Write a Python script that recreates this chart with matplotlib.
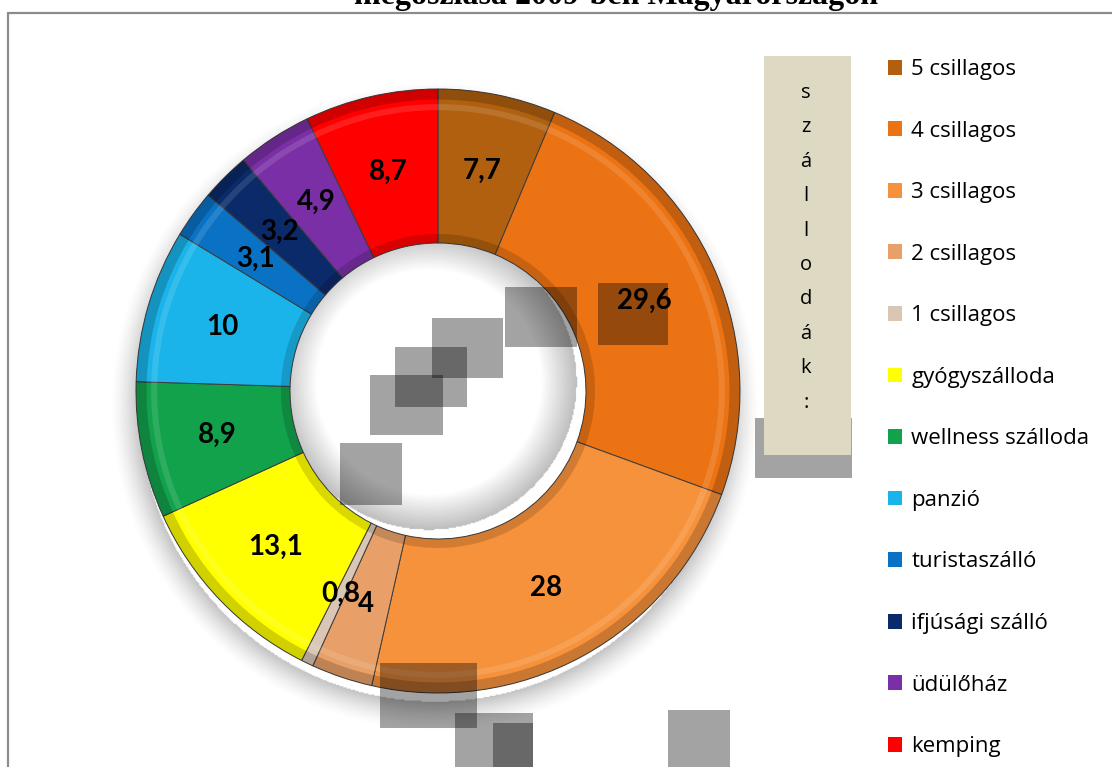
import numpy as np
import matplotlib
matplotlib.use('Agg')
import matplotlib.pyplot as plt
from matplotlib.patches import Rectangle, Patch

# szálláshelyek megoszlása 2009 (%)
categories = ['5 csillagos', '4 csillagos', '3 csillagos', '2 csillagos', '1 csillagos',
              'gyógyszálloda', 'wellness szálloda', 'panzió', 'turistaszálló',
              'ifjúsági szálló', 'üdülőház', 'kemping']
values = [7.7, 29.6, 28, 4, 0.8, 13.1, 8.9, 10, 3.1, 3.2, 4.9, 8.7]
colors = ['#B0600F', '#EC7313', '#F7923C', '#E8A068', '#D9C6B4', '#FFFF00',
          '#12A24C', '#1AB4EA', '#0A72C4', '#0B2A6A', '#7A2FA6', '#FF0000']
title = 'megoszlása 2009-ben Magyarországon'
side_label = 'szállodák:'

W, H = 1112, 767


def fx(x):
    return x / W


def fy(y):
    return 1 - y / H


fig = plt.figure(figsize=(W / 100, H / 100), dpi=100)

# keret
fig.add_artist(Rectangle((fx(8), -0.1), 1.2, fy(13) + 0.1, transform=fig.transFigure,
                         fill=False, edgecolor='#8c8c8c', linewidth=1.6, zorder=0))

fig.text(fx(616), fy(4), title, ha='center', va='baseline', fontsize=23,
         fontweight='bold', family='Liberation Serif')

# fánk diagram
cx, cy, R, half = 438, 391, 302, 360
ax = fig.add_axes([fx(cx - half), (H - cy - half) / H, 2 * half / W, 2 * half / H])
ax.set_zorder(1)
lim = half / R
ring = 0.51

# puha árnyék
g = np.linspace(-lim, lim, 600)
xx, yy = np.meshgrid(g, g)
rr = np.hypot(xx + 0.01, yy + 0.05)
alpha = np.where(rr > 0.98, 0.24 * np.clip(1 - (rr - 0.98) / 0.1, 0, 1) ** 1.5, 0)
rin = np.hypot(xx + 0.03, yy - 0.03)
alpha = alpha + np.where(rin < 1 - ring, 0.26 * np.clip(1 - (1 - ring - rin) / 0.12, 0, 1), 0)
img = np.zeros((600, 600, 4))
img[..., 3] = alpha
ax.imshow(img, extent=(-lim, lim, -lim, lim), origin='lower', zorder=0, interpolation='bilinear')

wedges, _ = ax.pie(values, colors=colors, startangle=90, counterclock=False, radius=1,
                   wedgeprops=dict(width=ring, edgecolor='#3c3c3c', linewidth=0.7))
# perem sötétítés (bevel hatás)
ax.pie(values, colors=['black'] * len(values), startangle=90, counterclock=False, radius=1,
       wedgeprops=dict(width=0.035, alpha=0.18, linewidth=0))
ax.pie(values, colors=['white'] * len(values), startangle=90, counterclock=False, radius=0.95,
       wedgeprops=dict(width=0.02, alpha=0.12, linewidth=0))
ax.pie(values, colors=['black'] * len(values), startangle=90, counterclock=False,
       radius=1 - ring + 0.03, wedgeprops=dict(width=0.03, alpha=0.15, linewidth=0))

for w, v in zip(wedges, values):
    ang = np.deg2rad((w.theta1 + w.theta2) / 2)
    r = 1 - ring / 2
    ax.text(r * np.cos(ang), r * np.sin(ang), f'{v:g}'.replace('.', ','),
            ha='center', va='center', fontsize=20, fontweight='bold', family='Lato', zorder=5)

ax.set_xlim(-lim, lim)
ax.set_ylim(-lim, lim)
ax.set_aspect('equal')
ax.axis('off')

# szürke foltok
boxes = [(505, 287, 577, 347), (432, 318, 503, 378), (395, 347, 467, 407), (370, 375, 443, 435),
         (340, 443, 402, 505), (598, 283, 668, 345), (755, 418, 852, 478), (380, 663, 477, 728),
         (455, 713, 533, 767), (493, 723, 533, 767), (668, 710, 730, 767)]
for x0, y0, x1, y1 in boxes:
    fig.add_artist(Rectangle((fx(x0), fy(y1)), fx(x1 - x0), (y1 - y0) / H,
                             transform=fig.transFigure, facecolor='black', alpha=0.36,
                             linewidth=0, zorder=2))

# bézs doboz függőleges felirattal
fig.add_artist(Rectangle((fx(764), fy(455)), fx(851 - 764), (455 - 56) / H,
                         transform=fig.transFigure, facecolor='#DDD9C3', linewidth=0, zorder=3))
for i, ch in enumerate(side_label):
    fig.text(fx(806), fy(98 + i * 34.4), ch, ha='center', va='baseline', fontsize=14.5,
             family='Open Sans', zorder=4)

handles = [Patch(facecolor=c, edgecolor='none') for c in colors]
fig.legend(handles, categories, loc='upper left', bbox_to_anchor=(fx(888), fy(59)),
           frameon=False, prop={'family': 'Open Sans', 'size': 16},
           handlelength=0.65, handleheight=0.65, handletextpad=0.4,
           labelspacing=1.825, borderpad=0, borderaxespad=0)

fig.savefig('out.png', dpi=100)
